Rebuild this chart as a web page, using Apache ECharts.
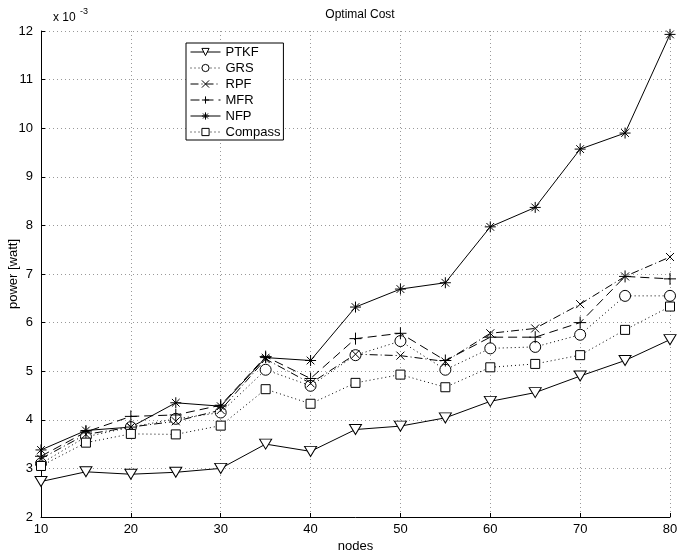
<!DOCTYPE html>
<html lang="en">
<head>
    <meta charset="UTF-8">
    <title>Optimal Cost</title>
    <script src="https://cdn.jsdelivr.net/npm/echarts@6/dist/echarts.min.js"></script>
    <style>
        html, body { margin: 0; padding: 0; width: 100%; height: 100%; background: #fff; }
        #container { width: 677px; height: 555px; }
    </style>
</head>
<body>
    <div id="container"></div>
    <script>
        // values are in units of 1e-3 watt
        let nodes = [10, 15, 20, 25, 30, 35, 40, 45, 50, 55, 60, 65, 70, 75, 80];
        let ptkf = [2.73, 2.93, 2.88, 2.92, 3.0, 3.5, 3.35, 3.8, 3.87, 4.04, 4.38, 4.56, 4.9, 5.22, 5.65];
        let grs = [3.1, 3.65, 3.85, 4.02, 4.15, 5.03, 4.7, 5.33, 5.62, 5.03, 5.47, 5.5, 5.75, 6.55, 6.55];
        let rpf = [3.2, 3.7, 3.85, 3.97, 4.2, 5.25, 4.75, 5.35, 5.32, 5.2, 5.78, 5.88, 6.38, 6.95, 7.35];
        let mfr = [3.25, 3.75, 4.07, 4.1, 4.3, 5.3, 4.85, 5.67, 5.78, 5.22, 5.7, 5.7, 6.0, 6.95, 6.9];
        let nfp = [3.38, 3.78, 3.85, 4.35, 4.28, 5.28, 5.22, 6.32, 6.69, 6.82, 7.97, 8.37, 9.57, 9.9, 11.93];
        let compass = [3.05, 3.53, 3.71, 3.7, 3.88, 4.63, 4.33, 4.76, 4.93, 4.67, 5.08, 5.15, 5.33, 5.85, 6.33];

        let font = 'Liberation Sans';
        let chart = echarts.init(document.getElementById('container'));

        function makeSeries(name, values, symbol, size, dash) {
            return {
                name: name,
                type: 'line',
                data: nodes.map((n, i) => [n, values[i]]),
                symbol: symbol,
                symbolSize: size,
                showAllSymbol: true,
                lineStyle: { color: '#000', width: 1, type: dash },
                itemStyle: { color: '#fff', borderColor: '#000', borderWidth: 1 },
                emphasis: { disabled: true },
                animation: false,
            };
        }

        let tri = 'path://M0,0 L10,0 L5,8 Z';
        let cross = 'path://M0,0 L10,10 M10,0 L0,10';
        let plus = 'path://M5,0 L5,10 M0,5 L10,5';
        let star = 'path://M5,0 L5,10 M0,5 L10,5 M1.5,1.5 L8.5,8.5 M8.5,1.5 L1.5,8.5';

        let option = {
            backgroundColor: '#fff',
            title: {
                text: 'Optimal Cost',
                left: 355,
                textAlign: 'center',
                top: 4,
                textStyle: { fontFamily: font, fontSize: 12, fontWeight: 'normal', color: '#000' },
            },
            legend: {
                orient: 'vertical',
                left: 186,
                top: 43,
                padding: [2, 3, 1, 4],
                itemWidth: 30,
                itemHeight: 9,
                itemGap: 2,
                backgroundColor: '#fff',
                borderColor: '#000',
                borderWidth: 1,
                borderRadius: 0,
                lineStyle: { width: 1 },
                itemStyle: { borderWidth: 1 },
                textStyle: { fontFamily: font, fontSize: 13, lineHeight: 14, color: '#000' },
                data: ['PTKF', 'GRS', 'RPF', 'MFR', 'NFP', 'Compass'],
            },
            grid: { left: 41, right: 7, top: 31, bottom: 38, outerBoundsMode: 'none' },
            xAxis: {
                type: 'value',
                min: 10,
                max: 80,
                interval: 10,
                name: 'nodes',
                nameLocation: 'middle',
                nameGap: 23,
                nameMoveOverlap: false,
                nameTextStyle: { fontFamily: font, fontSize: 13, color: '#000' },
                axisLine: { lineStyle: { color: '#000' } },
                axisTick: { inside: true, length: 4, lineStyle: { color: '#000' } },
                axisLabel: { fontFamily: font, fontSize: 13, color: '#000', margin: 6 },
                splitLine: { show: true, lineStyle: { color: '#999', type: [1, 3] } },
            },
            yAxis: {
                type: 'value',
                min: 2,
                max: 12,
                interval: 1,
                name: 'power [watt]',
                nameLocation: 'middle',
                nameGap: 21,
                nameMoveOverlap: false,
                nameTextStyle: { fontFamily: font, fontSize: 13, color: '#000' },
                axisLine: { show: true, lineStyle: { color: '#000' } },
                axisTick: { show: true, inside: true, length: 4, lineStyle: { color: '#000' } },
                axisLabel: { fontFamily: font, fontSize: 13, color: '#000', margin: 8 },
                splitLine: { show: true, lineStyle: { color: '#999', type: [1, 3] } },
            },
            graphic: [
                { type: 'text', left: 53, top: 12, style: { text: 'x 10', fontFamily: font, fontSize: 12, fill: '#000' } },
                { type: 'text', left: 80, top: 7, style: { text: '-3', fontFamily: font, fontSize: 9, fill: '#000' } },
            ],
            series: [
                makeSeries('PTKF', ptkf, tri, [12, 10], 'solid'),
                makeSeries('GRS', grs, 'circle', 11, [1, 3]),
                makeSeries('RPF', rpf, cross, 8, [8, 3, 1, 3]),
                makeSeries('MFR', mfr, plus, 12, [9, 5]),
                makeSeries('NFP', nfp, star, 11, 'solid'),
                makeSeries('Compass', compass, 'rect', 9, [1, 3]),
            ],
        };
        chart.setOption(option);
    </script>
</body>
</html>
